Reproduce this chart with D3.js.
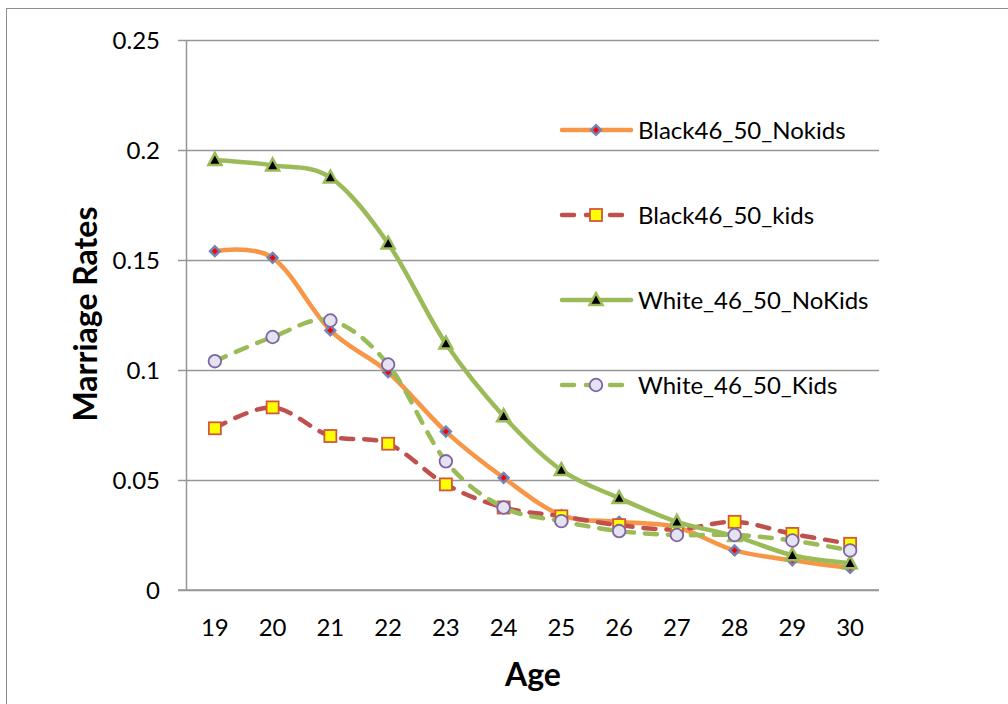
<!DOCTYPE html>
<html>
<head>
<meta charset="utf-8">
<script src="https://cdn.jsdelivr.net/npm/d3@7"></script>
<style>
  html, body { margin: 0; padding: 0; background: #fff; }
  svg { display: block; }
  text { font-family: Lato, "Open Sans", sans-serif; fill: #000; }
</style>
</head>
<body>
<svg id="chart" width="1008" height="704"></svg>
<script>
// ---- data ----
const ages = [19, 20, 21, 22, 23, 24, 25, 26, 27, 28, 29, 30];
const yTicks = [0, 0.05, 0.1, 0.15, 0.2, 0.25];
const yTickLabels = ["0", "0.05", "0.1", "0.15", "0.2", "0.25"];
const seriesNames = ["Black46_50_Nokids", "Black46_50_kids", "White_46_50_NoKids", "White_46_50_Kids"];
const blackNoKids = [0.154, 0.151, 0.118, 0.099, 0.072, 0.051, 0.034, 0.031, 0.0285, 0.018, 0.0135, 0.010];
const blackKids   = [0.0735, 0.083, 0.070, 0.0665, 0.048, 0.0375, 0.0335, 0.0295, 0.0275, 0.031, 0.0255, 0.021];
const whiteNoKids = [0.1955, 0.193, 0.1875, 0.1575, 0.112, 0.079, 0.0545, 0.0418, 0.031, 0.0245, 0.0158, 0.0122];
const whiteKids   = [0.104, 0.115, 0.1225, 0.1025, 0.0585, 0.0375, 0.0313, 0.0268, 0.025, 0.025, 0.0225, 0.018];
const xTitle = "Age";
const yTitle = "Marriage Rates";

// ---- layout ----
const svg = d3.select("#chart");
const plot = { left: 186, right: 879, top: 40, bottom: 590 };

const x = d3.scaleBand().domain(ages).range([plot.left, plot.right]).padding(0);
const y = d3.scaleLinear().domain([0, 0.25]).range([plot.bottom, plot.top]);
const cx = d => x(d) + x.bandwidth() / 2;

// outer chart border
svg.append("rect")
  .attr("x", 6.5).attr("y", 8.5).attr("width", 1100).attr("height", 800)
  .attr("fill", "none").attr("stroke", "#8c8c8c").attr("stroke-width", 1);

// gridlines + y-axis
const yAxis = d3.axisLeft(y)
  .tickValues(yTicks)
  .tickFormat((d, i) => yTickLabels[i])
  .tickSizeInner(-(plot.right - plot.left))
  .tickSizeOuter(0)
  .tickPadding(0);

const gy = svg.append("g").attr("transform", `translate(${plot.left},0)`).call(yAxis);
gy.select(".domain").attr("stroke", "#969696").attr("stroke-width", 1.5);
gy.selectAll(".tick line").attr("stroke", "#969696").attr("stroke-width", 1.5)
  .attr("x1", -8);
gy.selectAll(".tick text")
  .attr("x", -26)
  .attr("dy", "0.36em")
  .style("font-size", "24px");

// x-axis
const xAxis = d3.axisBottom(x).tickSize(0).tickPadding(0);
const gx = svg.append("g").attr("transform", `translate(0,${plot.bottom})`).call(xAxis);
gx.select(".domain").remove();
gx.selectAll(".tick text").attr("dy", 0).attr("y", 46).style("font-size", "24px");
svg.append("line")
  .attr("x1", plot.left - 8).attr("x2", plot.right)
  .attr("y1", y(0)).attr("y2", y(0))
  .attr("stroke", "#969696").attr("stroke-width", 1.5);

// axis titles
svg.append("text")
  .attr("x", 533).attr("y", 686)
  .attr("text-anchor", "middle")
  .style("font-size", "32px").style("font-weight", "bold")
  .text(xTitle);
svg.append("text")
  .attr("transform", "translate(97,314) rotate(-90)")
  .attr("text-anchor", "middle")
  .style("font-size", "32px").style("font-weight", "bold")
  .text(yTitle);

// ---- series ----
const styles = [
  { data: blackNoKids, color: "#F79646", dash: null, marker: "diamond", fill: "#FF0000", stroke: "#6F86B5" },
  { data: blackKids, color: "#C0504D", dash: "12,11", marker: "square", fill: "#FFFF00", stroke: "#D2573C" },
  { data: whiteNoKids, color: "#9BBB59", dash: null, marker: "triangle", fill: "#000000", stroke: "#9BBB59" },
  { data: whiteKids, color: "#9BBB59", dash: "12,11", marker: "circle", fill: "#E3E3F2", stroke: "#8064A2" }
];

const line = d3.line()
  .x((d, i) => cx(ages[i]))
  .y(d => y(d))
  .curve(d3.curveCardinal.tension(0));

function drawMarker(g, type, px, py, s) {
  if (type === "diamond") {
    g.append("path")
      .attr("d", d3.symbol().type(d3.symbolDiamond2 || d3.symbolSquare).size(60)())
      .attr("transform", `translate(${px},${py}) rotate(${d3.symbolDiamond2 ? 0 : 45})`)
      .attr("fill", s.fill).attr("stroke", s.stroke).attr("stroke-width", 2.5);
  } else if (type === "square") {
    g.append("rect")
      .attr("x", px - 6).attr("y", py - 6).attr("width", 12).attr("height", 12)
      .attr("fill", s.fill).attr("stroke", s.stroke).attr("stroke-width", 1.8);
  } else if (type === "triangle") {
    g.append("path")
      .attr("d", `M${px},${py - 7} L${px + 6.5},${py + 5} L${px - 6.5},${py + 5} Z`)
      .attr("fill", s.fill).attr("stroke", s.stroke).attr("stroke-width", 2.5)
      .attr("stroke-linejoin", "miter");
  } else if (type === "circle") {
    g.append("circle")
      .attr("cx", px).attr("cy", py).attr("r", 6.3)
      .attr("fill", s.fill).attr("stroke", s.stroke).attr("stroke-width", 1.8);
  }
}

styles.forEach(s => {
  const g = svg.append("g");
  g.append("path")
    .attr("d", line(s.data))
    .attr("fill", "none")
    .attr("stroke", s.color)
    .attr("stroke-width", 4.5)
    .attr("stroke-linecap", "round")
    .attr("stroke-dasharray", s.dash);
  s.data.forEach((v, i) => drawMarker(g, s.marker, cx(ages[i]), y(v), s));
});

// ---- legend ----
const legendY = [130, 215, 300, 385];
styles.forEach((s, i) => {
  const g = svg.append("g");
  const ly = legendY[i];
  g.append("line")
    .attr("x1", 562).attr("x2", 631).attr("y1", ly).attr("y2", ly)
    .attr("stroke", s.color).attr("stroke-width", 4.5)
    .attr("stroke-linecap", "round")
    .attr("stroke-dasharray", s.dash ? "12,12" : null);
  drawMarker(g, s.marker, 596, ly, s);
  g.append("text")
    .attr("x", 638).attr("y", ly).attr("dy", "0.36em")
    .style("font-size", "24px")
    .text(seriesNames[i]);
});
</script>
</body>
</html>
